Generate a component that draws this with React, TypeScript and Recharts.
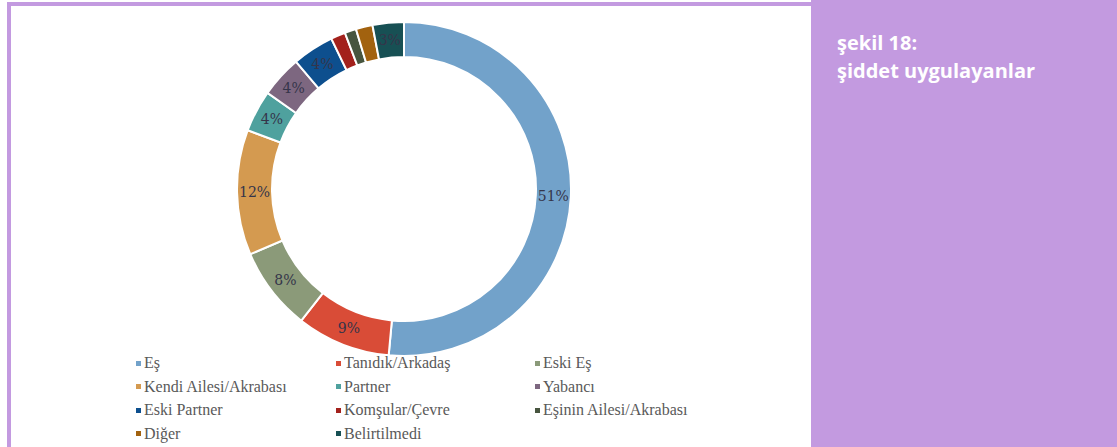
import React from 'react';
import { PieChart, Pie, Cell } from 'recharts';

const CATEGORIES = [
  'Eş',
  'Tanıdık/Arkadaş',
  'Eski Eş',
  'Kendi Ailesi/Akrabası',
  'Partner',
  'Yabancı',
  'Eski Partner',
  'Komşular/Çevre',
  'Eşinin Ailesi/Akrabası',
  'Diğer',
  'Belirtilmedi',
];
const SHARES = [51, 9, 8, 12, 4, 4, 4, 1.4, 1.1, 1.6, 3];
const COLORS = [
  '#72a2ca', '#d94c37', '#8b9a79', '#d49a50', '#4fa19e', '#7d6780',
  '#0d4f8e', '#a3211c', '#47553f', '#a2620f', '#175054',
];

const PURPLE = '#c39ae0';
const SERIF = '"Liberation Serif", "DejaVu Serif", serif';

const chartData = CATEGORIES.map((name, i) => ({ name, value: SHARES[i] }));

const RADIAN = Math.PI / 180;

const renderLabel = (props: any) => {
  const { cx, cy, midAngle, innerRadius, outerRadius, value } = props;
  if (value < 3) return null;
  const r = (innerRadius + outerRadius) / 2;
  const x = cx + r * Math.cos(-midAngle * RADIAN);
  const y = cy + r * Math.sin(-midAngle * RADIAN);
  return (
    <text x={x} y={y} fill="#35354a" fontSize={14} fontFamily='"DejaVu Serif", serif' textAnchor="middle" dominantBaseline="central">
      {`${Math.round(value)}%`}
    </text>
  );
};

const LegendGrid: React.FC = () => (
  <div
    style={{
      position: 'absolute',
      left: 136,
      top: 353,
      display: 'grid',
      gridTemplateColumns: '200px 199px 220px',
      rowGap: 3.5,
      fontFamily: SERIF,
      fontSize: 16,
      color: '#595959',
      lineHeight: '20px',
    }}
  >
    {CATEGORIES.map((name, i) => (
      <div key={name} style={{ display: 'flex', alignItems: 'center', whiteSpace: 'nowrap' }}>
        <span style={{ width: 5, height: 5, background: COLORS[i], marginRight: 3, display: 'inline-block' }} />
        {name}
      </div>
    ))}
  </div>
);

export default function App() {
  return (
    <div style={{ position: 'absolute', left: 0, top: 0, width: 1117, height: 447, background: '#fff', overflow: 'hidden' }}>
      {/* frame */}
      <div style={{ position: 'absolute', left: 7, top: 2, width: 810, height: 4, background: PURPLE }} />
      <div style={{ position: 'absolute', left: 7, top: 2, width: 4, height: 445, background: PURPLE }} />

      <div style={{ position: 'absolute', left: 0, top: 0 }}>
        <PieChart width={800} height={447}>
          <Pie
            data={chartData}
            dataKey="value"
            cx={399}
            cy={184}
            innerRadius={132}
            outerRadius={167}
            startAngle={90}
            endAngle={-270}
            stroke="#fff"
            strokeWidth={2}
            label={renderLabel}
            labelLine={false}
            isAnimationActive={false}
          >
            {chartData.map((d, i) => (
              <Cell key={d.name} fill={COLORS[i]} />
            ))}
          </Pie>
        </PieChart>
      </div>

      <LegendGrid />

      <div style={{ position: 'absolute', left: 811, top: 0, width: 306, height: 447, background: PURPLE }}>
        <div
          style={{
            position: 'absolute',
            left: 26,
            top: 29,
            color: '#fff',
            fontFamily: '"Open Sans", sans-serif',
            fontWeight: 700,
            fontSize: 20,
            lineHeight: '28px',
          }}
        >
          <div>şekil 18:</div>
          <div>şiddet uygulayanlar</div>
        </div>
      </div>
    </div>
  );
}
